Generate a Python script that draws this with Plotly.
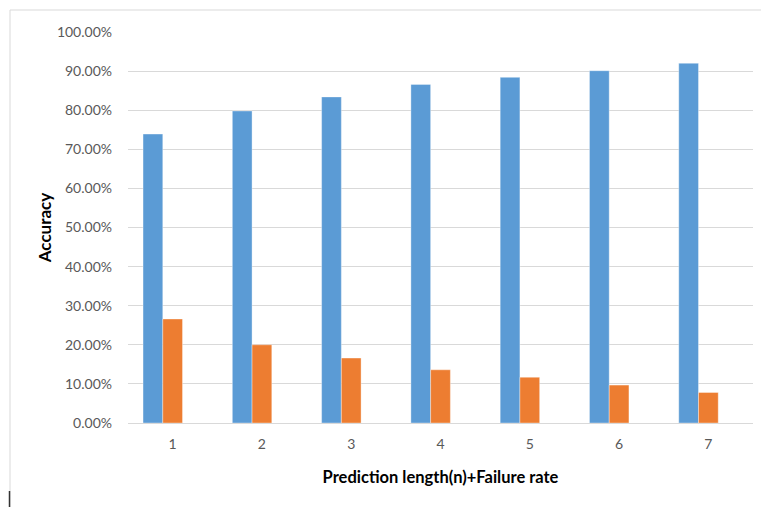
import plotly.graph_objects as go

# Prediction length n = 1..7
categories = [1, 2, 3, 4, 5, 6, 7]
tick_labels = ["1", "2", "3", "4", "5", "6", "7"]
accuracy = [0.739, 0.798, 0.834, 0.866, 0.884, 0.901, 0.920]
failure_rate = [0.266, 0.200, 0.166, 0.136, 0.117, 0.097, 0.078]
y_ticks = [0.0, 0.1, 0.2, 0.3, 0.4, 0.5, 0.6, 0.7, 0.8, 0.9, 1.0]

W, H = 761, 507
L, R, T, B = 128, 8, 32, 84
plot_w = W - L - R
plot_h = H - T - B


def px_to_paper(px, py):
    return (px - L) / plot_w, (H - B - py) / plot_h


BAR_W = 0.221
BLUE = "#5B9BD5"
ORANGE = "#ED7D31"

fig = go.Figure()
fig.add_trace(go.Bar(
    x=categories, y=accuracy, name="Accuracy",
    marker=dict(color=BLUE, line=dict(color="rgba(255,255,255,0.6)", width=0.6)),
    width=BAR_W, offset=-1.5 * BAR_W,
))
fig.add_trace(go.Bar(
    x=categories, y=failure_rate, name="Failure rate",
    marker=dict(color=ORANGE, line=dict(color="rgba(255,255,255,0.6)", width=0.6)),
    width=BAR_W, offset=-0.5 * BAR_W,
))

# Light chart-area frame (top and left edges) and the small dark mark at bottom-left
x0, y0 = px_to_paper(10, 10)
x1, _ = px_to_paper(770, 10)
_, y1 = px_to_paper(10, 520)
shapes = [
    dict(type="line", xref="paper", yref="paper", x0=x0, y0=y0, x1=x1, y1=y0,
         line=dict(color="#D9D9D9", width=1)),
    dict(type="line", xref="paper", yref="paper", x0=x0, y0=y0, x1=x0, y1=y1,
         line=dict(color="#D9D9D9", width=1)),
]
cx, cy0 = px_to_paper(9.5, 491)
_, cy1 = px_to_paper(9.5, 507)
shapes.append(dict(type="line", xref="paper", yref="paper", x0=cx, y0=cy0, x1=cx, y1=cy1,
                   line=dict(color="#333333", width=1.5)))

fig.update_layout(
    width=W, height=H,
    margin=dict(l=L, r=R, t=T, b=B),
    paper_bgcolor="white", plot_bgcolor="white",
    showlegend=False,
    barmode="overlay",
    font=dict(family="Lato, 'Open Sans', sans-serif", color="#595959"),
    shapes=shapes,
    xaxis=dict(
        range=[0.5, 7.5], tickvals=categories, ticktext=tick_labels,
        showgrid=False, zeroline=False, showline=True, linecolor="#D9D9D9", linewidth=1,
        ticks="", tickfont=dict(size=14, color="#595959"), ticklabelstandoff=8,
        title=dict(text="<b>Prediction length(n)+Failure rate</b>",
                   font=dict(size=16.5, color="#000000"), standoff=20),
    ),
    yaxis=dict(
        range=[0, 1.0], tickvals=y_ticks, tickformat=".2%",
        showgrid=True, gridcolor="#D9D9D9", gridwidth=1, zeroline=False,
        ticks="", tickfont=dict(size=14, color="#595959"), ticklabelstandoff=15,
        title=dict(text="<b>Accuracy</b>", font=dict(size=17, color="#000000"), standoff=0),
    ),
)

fig.write_html("out.html")
